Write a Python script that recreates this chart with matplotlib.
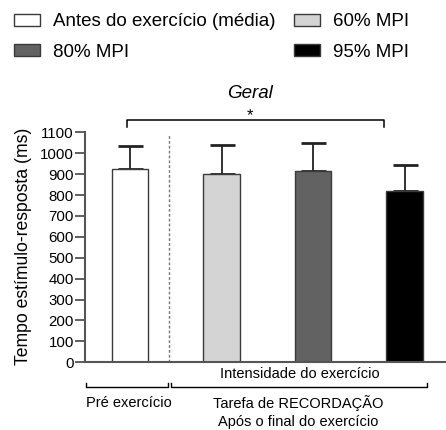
import matplotlib.pyplot as plt
import matplotlib.transforms as mtransforms
from matplotlib.patches import Patch

plt.rcParams['font.family'] = ['Liberation Sans', 'DejaVu Sans']

# dados
grupos = ['Antes do exercício (média)', '60% MPI', '80% MPI', '95% MPI']
medias = [923, 899, 915, 820]
erros = [110, 142, 133, 123]
cores = ['white', '#d4d4d4', '#626262', 'black']
yticks = list(range(0, 1101, 100))

fig = plt.figure(figsize=(4.46, 4.30), dpi=100)
ax = fig.add_axes([0.1906, 0.1574, 0.8094, 0.5349])

x = list(range(len(medias)))
ax.bar(x, medias, width=0.4, color=cores, edgecolor='#3a3a3a', linewidth=1.0, zorder=2)
ax.errorbar(x, medias, yerr=[[0] * len(erros), erros], fmt='none', ecolor='#222222',
            elinewidth=1.3, capsize=9, capthick=2, zorder=1)

ax.set_xlim(-0.492, 3.453)
ax.set_ylim(0, 1100)
ax.set_yticks(yticks)
ax.tick_params(axis='y', labelsize=10.8, length=7, width=1.2, color='#444444', pad=1)
ax.set_xticks([])
for s in ['top', 'right']:
    ax.spines[s].set_visible(False)
for s in ['left', 'bottom']:
    ax.spines[s].set_color('#555555')
    ax.spines[s].set_linewidth(1.5)
ax.set_ylabel('Tempo estímulo-resposta (ms)', fontsize=12.7)
ax.yaxis.set_label_coords(-0.147, 0.506)

# linha tracejada separando pré e pós
ax.plot([0.426, 0.426], [0, 1085], ls=(0, (2, 1.5)), color='#777777', lw=1.0, zorder=1)

# chave de significância
ax.plot([-0.03, -0.03, 2.77, 2.77], [1125, 1160, 1160, 1125], color='black', lw=1.1, clip_on=False)
ax.text(1.31, 1178, '*', ha='center', va='center', fontsize=12)
ax.text(1.31, 1285, 'Geral', ha='center', va='center', fontsize=13.5, style='italic')

# anotações abaixo do eixo
tr = mtransforms.blended_transform_factory(ax.transData, ax.transAxes)
ax.text(1.86, -0.051, 'Intensidade do exercício', transform=tr, ha='center', va='center', fontsize=10.5)
ax.plot([-0.48, -0.48, 0.415, 0.415], [-0.088, -0.107, -0.107, -0.088], transform=tr,
        color='black', lw=1.0, clip_on=False)
ax.plot([0.448, 0.448, 3.246, 3.246], [-0.088, -0.107, -0.107, -0.088], transform=tr,
        color='black', lw=1.0, clip_on=False)
ax.text(-0.01, -0.177, 'Pré exercício', transform=tr, ha='center', va='center', fontsize=10.5)
ax.text(1.84, -0.177, 'Tarefa de RECORDAÇÃO', transform=tr, ha='center', va='center', fontsize=10.5)
ax.text(1.84, -0.26, 'Após o final do exercício', transform=tr, ha='center', va='center', fontsize=10.5)

# legenda
ordem = [0, 2, 1, 3]
handles = [Patch(facecolor=cores[i], edgecolor='#3a3a3a', linewidth=1.0) for i in ordem]
labels = [grupos[i] for i in ordem]
fig.legend(handles, labels, ncol=2, loc='upper left', bbox_to_anchor=(0.031, 0.969),
           frameon=False, fontsize=13.5, borderpad=0, borderaxespad=0,
           handlelength=1.39, handleheight=0.64, handletextpad=0.69,
           columnspacing=1.0, labelspacing=0.72)

fig.savefig('out.png', dpi=100)
